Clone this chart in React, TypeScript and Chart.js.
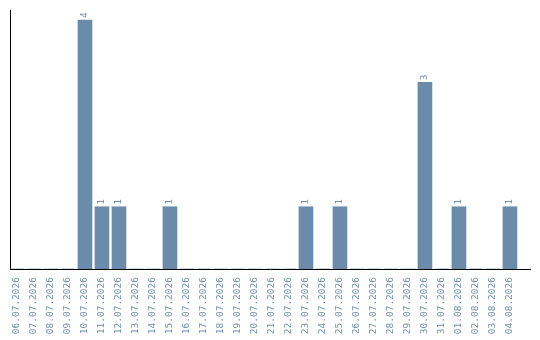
import React, { useEffect, useRef } from "react";
import { Chart, registerables } from "chart.js";

Chart.register(...registerables);

const dates: string[] = [
  "06.07.2026", "07.07.2026", "08.07.2026", "09.07.2026", "10.07.2026",
  "11.07.2026", "12.07.2026", "13.07.2026", "14.07.2026", "15.07.2026",
  "16.07.2026", "17.07.2026", "18.07.2026", "19.07.2026", "20.07.2026",
  "21.07.2026", "22.07.2026", "23.07.2026", "24.07.2026", "25.07.2026",
  "26.07.2026", "27.07.2026", "28.07.2026", "29.07.2026", "30.07.2026",
  "31.07.2026", "01.08.2026", "02.08.2026", "03.08.2026", "04.08.2026",
];

const counts: number[] = [
  0, 0, 0, 0, 4,
  1, 1, 0, 0, 1,
  0, 0, 0, 0, 0,
  0, 0, 1, 0, 1,
  0, 0, 0, 0, 3,
  0, 1, 0, 0, 1,
];

const BAR_COLOR = "#6b8bab";
const TEXT_COLOR = "#6f8fb1";
const FONT_FAMILY = "'DejaVu Sans Mono', monospace";

// Writes each non-zero count vertically just above its bar.
const valueLabels = {
  id: "valueLabels",
  afterDatasetsDraw(chart: any) {
    const ctx = chart.ctx;
    const meta = chart.getDatasetMeta(0);
    ctx.save();
    ctx.fillStyle = TEXT_COLOR;
    ctx.font = `9.5px ${FONT_FAMILY}`;
    ctx.textAlign = "left";
    ctx.textBaseline = "middle";
    meta.data.forEach((el: any, i: number) => {
      const v = counts[i];
      if (!v) return;
      ctx.save();
      ctx.translate(el.x, el.y - 2);
      ctx.rotate(-Math.PI / 2);
      ctx.fillText(String(v), 0, 0);
      ctx.restore();
    });
    ctx.restore();
  },
};

export default function App() {
  const canvasRef = useRef<HTMLCanvasElement | null>(null);

  useEffect(() => {
    const canvas = canvasRef.current;
    if (!canvas) return;
    const chart = new Chart(canvas, {
      type: "bar",
      data: {
        datasets: [
          {
            data: counts.map((y, x) => ({ x, y })),
            backgroundColor: BAR_COLOR,
            borderWidth: 0,
            barThickness: 14,
          },
        ],
      },
      options: {
        responsive: false,
        animation: false,
        layout: { padding: { left: 10, right: 10, top: 10, bottom: 0 } },
        plugins: {
          legend: { display: false },
          tooltip: { enabled: false },
        },
        scales: {
          x: {
            type: "linear",
            min: -0.41,
            max: 30.18,
            offset: false,
            grid: { display: false, drawTicks: false },
            border: { display: true, color: "#000", width: 1 },
            afterBuildTicks: (axis: any) => {
              axis.ticks = dates.map((_, i) => ({ value: i }));
            },
            afterFit: (axis: any) => {
              axis.height = 71;
            },
            ticks: {
              autoSkip: false,
              minRotation: 90,
              maxRotation: 90,
              padding: 8,
              color: TEXT_COLOR,
              font: { family: FONT_FAMILY, size: 9.5 },
              callback: (value: any) => dates[Math.round(Number(value))] ?? "",
            },
          },
          y: {
            min: 0,
            max: 4.16,
            grid: { display: false, drawTicks: false },
            border: { display: true, color: "#000", width: 1 },
            ticks: { display: false },
            afterFit: (axis: any) => {
              axis.width = 0;
            },
          },
        },
      },
      plugins: [valueLabels],
    });
    return () => chart.destroy();
  }, []);

  return (
    <div style={{ position: "fixed", left: 0, top: 0, width: 540, height: 340, background: "#fff" }}>
      <canvas ref={canvasRef} width={540} height={340} style={{ display: "block" }} />
    </div>
  );
}
